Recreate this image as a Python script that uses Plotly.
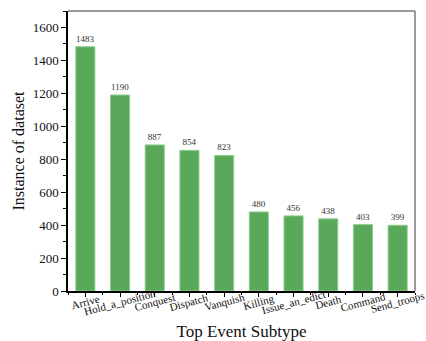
import plotly.graph_objects as go

# Top event subtypes and their instance counts
subtypes = ["Arrive", "Hold_a_position", "Conquest", "Dispatch", "Vanquish",
            "Killing", "Issue_an_edict", "Death", "Command", "Send_troops"]
counts = [1483, 1190, 887, 854, 823, 480, 456, 438, 403, 399]

positions = list(range(len(subtypes)))
serif = "Liberation Serif, Times New Roman, serif"

fig = go.Figure(
    go.Bar(
        x=positions,
        y=counts,
        width=0.55,
        marker=dict(color="#5aa85a", line=dict(color="#8fcd8f", width=1)),
        text=[str(c) for c in counts],
        textposition="outside",
        textfont=dict(family=serif, size=9, color="#333333"),
        cliponaxis=False,
    )
)

# Slanted category labels, centred under each tick
for p, name in zip(positions, subtypes):
    fig.add_annotation(
        x=p, y=-0.04, xref="x", yref="paper",
        text=name, showarrow=False, textangle=-15,
        xanchor="center", yanchor="middle",
        font=dict(family=serif, size=11, color="#111111"),
    )

# Grey frame on the top and right sides
fig.add_shape(type="line", xref="paper", yref="paper", x0=0, x1=1, y0=1, y1=1,
              line=dict(color="#7a7a7a", width=1.5))
fig.add_shape(type="line", xref="paper", yref="paper", x0=1, x1=1, y0=0, y1=1,
              line=dict(color="#7a7a7a", width=1.5))

fig.update_layout(
    width=426, height=341,
    margin=dict(l=68, r=11, t=11, b=50, autoexpand=False),
    plot_bgcolor="white", paper_bgcolor="white",
    showlegend=False,
    font=dict(family=serif, color="#111111"),
    xaxis=dict(
        range=[-0.5, len(subtypes) - 0.5],
        tickvals=positions, ticktext=[""] * len(subtypes),
        ticks="outside", ticklen=4, tickwidth=1, tickcolor="black",
        minor=dict(ticks="outside", ticklen=2, tick0=0.5, dtick=1, tickcolor="black"),
        showline=True, linecolor="black", linewidth=1.5,
        showgrid=False, zeroline=False, automargin=False,
        title=dict(text="Top Event Subtype", font=dict(family=serif, size=17), standoff=28),
    ),
    yaxis=dict(
        range=[0, 1700],
        tickvals=list(range(0, 1601, 200)),
        ticks="outside", ticklen=5, tickwidth=1, tickcolor="black",
        minor=dict(ticks="outside", ticklen=3, dtick=100, tickcolor="black"),
        showline=True, linecolor="black", linewidth=1.5,
        showgrid=False, zeroline=False, automargin=False,
        tickfont=dict(family=serif, size=13),
        title=dict(text="Instance of dataset", font=dict(family=serif, size=16), standoff=4),
    ),
)

fig.write_html("out.html")
